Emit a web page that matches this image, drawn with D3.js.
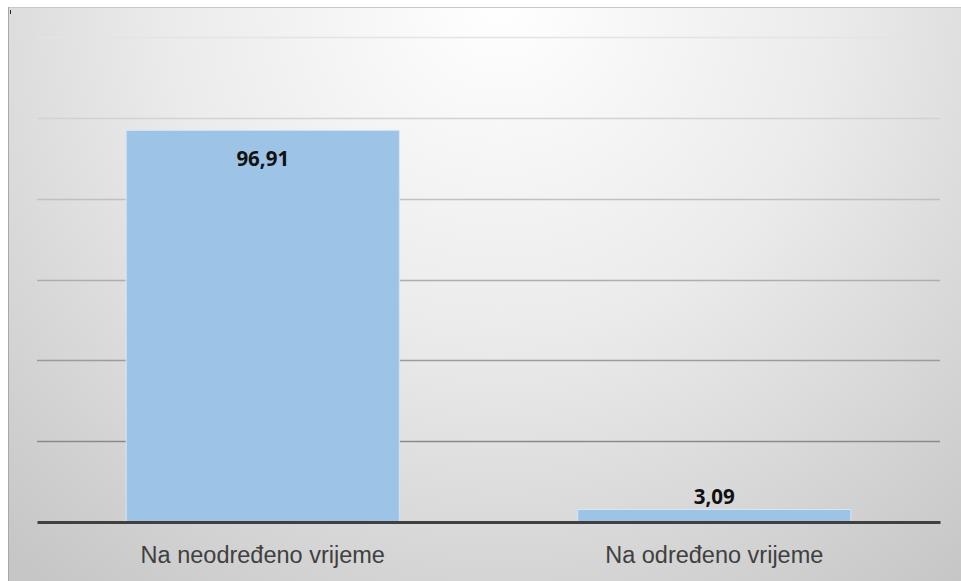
<!DOCTYPE html>
<html>
<head>
<meta charset="utf-8">
<script src="https://cdn.jsdelivr.net/npm/d3@7"></script>
<style>
  html, body { margin: 0; background: #fff; overflow: hidden; }
  svg { display: block; }
</style>
</head>
<body>
<div id="chart"></div>
<script>
'use strict';

// data
const categories = ["Na neodređeno vrijeme", "Na određeno vrijeme"];
const values = [96.91, 3.09];
const valueLabels = ["96,91", "3,09"];
const yTicks = [20, 40, 60, 80, 100, 120];

const W = 961, H = 581;
const margin = {top: 37, left: 37, right: 21, bottom: 59};

const svg = d3.select("#chart").append("svg")
  .attr("width", W)
  .attr("height", H);

// background gradient
const defs = svg.append("defs");
const grad = defs.append("radialGradient")
  .attr("id", "bg")
  .attr("gradientUnits", "userSpaceOnUse")
  .attr("cx", 500).attr("cy", 0).attr("r", 740);
grad.append("stop").attr("offset", "0%").attr("stop-color", "#ffffff");
grad.append("stop").attr("offset", "45%").attr("stop-color", "#ebebeb");
grad.append("stop").attr("offset", "100%").attr("stop-color", "#c6c6c6");

svg.append("rect")
  .attr("x", 8).attr("y", 7)
  .attr("width", W - 8).attr("height", H - 7)
  .attr("fill", "url(#bg)");
// chart border (top / left)
svg.append("line").attr("x1", 8).attr("x2", W).attr("y1", 7.5).attr("y2", 7.5)
  .attr("stroke", "#c8c8c8");
svg.append("line").attr("x1", 8.5).attr("x2", 8.5).attr("y1", 7).attr("y2", H)
  .attr("stroke", "#a8a8a8");
svg.append("rect").attr("x", 10).attr("y", 10).attr("width", 1).attr("height", 4)
  .attr("fill", "#222");

// scales
const x = d3.scaleBand()
  .domain(categories)
  .range([margin.left, W - margin.right])
  .paddingInner(0.395)
  .paddingOuter(0.1975);

const y = d3.scaleLinear()
  .domain([0, 120])
  .range([H - margin.bottom, margin.top]);

const gridColor = d3.scaleLinear()
  .domain([20, 120])
  .range(["#8a8a8a", "#e4e4e4"]);

// gridlines
svg.append("g")
  .selectAll("line")
  .data(yTicks)
  .join("line")
  .attr("x1", margin.left)
  .attr("x2", W - margin.right)
  .attr("y1", d => Math.round(y(d)) + 0.5)
  .attr("y2", d => Math.round(y(d)) + 0.5)
  .attr("stroke", d => gridColor(d))
  .attr("stroke-width", 1.3);

// bars
svg.append("g")
  .selectAll("rect")
  .data(values)
  .join("rect")
  .attr("x", (d, i) => x(categories[i]))
  .attr("y", d => y(d))
  .attr("width", x.bandwidth())
  .attr("height", d => y(0) - y(d))
  .attr("fill", "#9dc3e6")
  .attr("stroke", "#d6e6f5")
  .attr("stroke-width", 1);

// data labels
svg.append("g")
  .selectAll("text")
  .data(values)
  .join("text")
  .attr("x", (d, i) => x(categories[i]) + x.bandwidth() / 2)
  .attr("y", d => d > 20 ? y(d) + 36 : y(d) - 6)
  .attr("text-anchor", "middle")
  .style("font-family", "'Open Sans', sans-serif")
  .style("font-weight", "bold")
  .style("font-size", "20.5px")
  .attr("fill", "#111")
  .text((d, i) => valueLabels[i]);

// x axis
const xAxis = d3.axisBottom(x).tickSize(0).tickPadding(24);
const gx = svg.append("g")
  .attr("transform", `translate(0,${y(0)})`)
  .call(xAxis);
gx.select(".domain")
  .attr("stroke", "#404040")
  .attr("stroke-width", 3);
gx.selectAll("text")
  .style("font-family", "'Liberation Sans', Arial, sans-serif")
  .style("font-size", "23.5px")
  .attr("fill", "#404040");
</script>
</body>
</html>
